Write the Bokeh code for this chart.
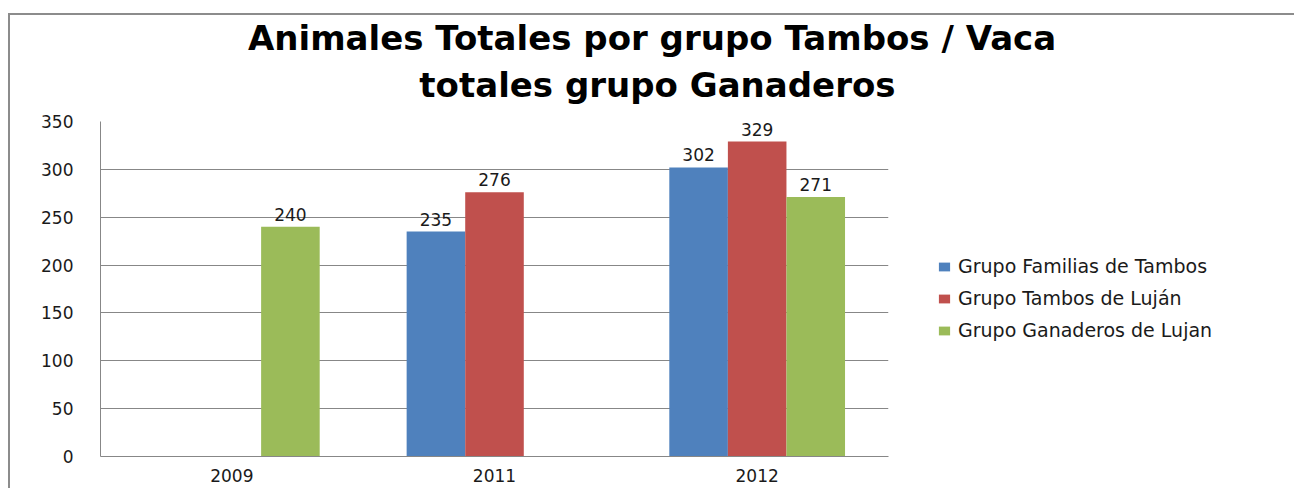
from bokeh.plotting import figure
from bokeh.models import (ColumnDataSource, FactorRange, Range1d, Legend, LegendItem,
                          Title, FixedTicker)
from bokeh.transform import dodge
from bokeh.core.properties import value
from bokeh.embed import file_html
from bokeh.resources import INLINE

# ---- data ----
years = ["2009", "2011", "2012"]
series_names = ["Grupo Familias de Tambos", "Grupo Tambos de Luján", "Grupo Ganaderos de Lujan"]
familias = [None, 235, 302]
tambos = [None, 276, 329]
ganaderos = [240, None, 271]
colors = ["#4F81BD", "#C0504D", "#9BBB59"]
y_ticks = [0, 50, 100, 150, 200, 250, 300, 350]
title_lines = ["Animales Totales por grupo Tambos / Vaca", "totales grupo Ganaderos"]

FONT = "DejaVu Sans"
GRAY = "#878787"
TITLE_PX = 34
# approximate DejaVu Sans Bold widths (em) of the two title lines, to centre them at x=657
title_em = [24.09, 14.01]
title_center_from_frame_left = 557

p = figure(x_range=FactorRange(*years, range_padding=0), y_range=Range1d(0, 350),
           frame_width=788, frame_height=335, output_backend="svg", toolbar_location=None,
           min_border_left=90, min_border_right=402, min_border_top=106, min_border_bottom=32)
p.styles = {"border-left": "2px solid #8c8c8c", "border-top": "2px solid #8c8c8c",
            "margin-top": "13px", "margin-left": "8px"}
p.outline_line_color = None
p.background_fill_color = "white"
p.border_fill_color = "white"

# axes
p.xgrid.grid_line_color = None
p.ygrid.grid_line_color = GRAY
p.ygrid.grid_line_width = 1
p.yaxis.ticker = FixedTicker(ticks=y_ticks)
for ax in (p.xaxis[0], p.yaxis[0]):
    ax.axis_line_color = GRAY
    ax.major_tick_line_color = None
    ax.minor_tick_line_color = None
    ax.major_tick_out = 0
    ax.major_tick_in = 0
    ax.major_label_text_font = FONT
    ax.major_label_text_font_size = "17px"
    ax.major_label_text_color = "#1a1a1a"
p.yaxis.major_label_standoff = 27
p.xaxis.major_label_standoff = 12

offsets = [-0.223, 0.0, 0.223]
bar_w = 0.223
items = []
for name, vals, col, off in zip(series_names, [familias, tambos, ganaderos], colors, offsets):
    xs = [y for y, v in zip(years, vals) if v is not None]
    vs = [v for v in vals if v is not None]
    src = ColumnDataSource(dict(year=xs, val=vs, lab=[str(v) for v in vs]))
    r = p.vbar(x=dodge("year", off, range=p.x_range), top="val", width=bar_w, source=src,
               fill_color=col, line_color=None)
    p.text(x=dodge("year", off, range=p.x_range), y="val", text="lab", source=src,
           text_font=value(FONT), text_font_size="17px", text_color="#1a1a1a",
           text_align="center", text_baseline="bottom", y_offset=-6)
    items.append(LegendItem(label=name, renderers=[r]))

legend = Legend(items=items, location=(49, 115), orientation="vertical",
                label_text_font=FONT, label_text_font_size="19px", label_text_color="#1a1a1a",
                glyph_width=14, glyph_height=11, label_standoff=7, label_height=20,
                spacing=10, padding=0, margin=0, border_line_color=None,
                background_fill_alpha=0)
p.add_layout(legend, "right")

# title: second line first (closest to the plot), then first line above it
for line, em, sd in [(title_lines[1], title_em[1], 33), (title_lines[0], title_em[0], -23)]:
    off = title_center_from_frame_left - em * TITLE_PX / 2
    p.add_layout(Title(text=line, align="left", offset=off, standoff=sd,
                       text_font=FONT, text_font_size=f"{TITLE_PX}px", text_font_style="bold",
                       text_color="#000000"), "above")

open("out.html", "w").write(file_html(p, INLINE))
